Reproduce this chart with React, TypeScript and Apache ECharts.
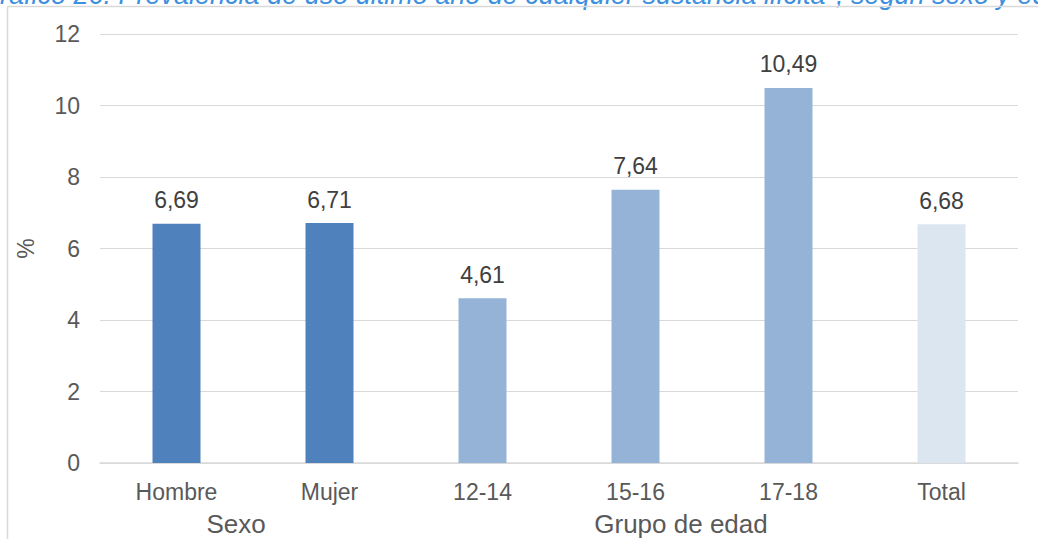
import React, { useEffect, useRef } from "react";
import * as echarts from "echarts";

const categories = ["Hombre", "Mujer", "12-14", "15-16", "17-18", "Total"];
const values = [6.69, 6.71, 4.61, 7.64, 10.49, 6.68];
const barColors = ["#4f81bd", "#4f81bd", "#95b3d7", "#95b3d7", "#95b3d7", "#dce6f1"];
const groupLabels = ["Sexo", "Grupo de edad"];
const yTicks = { min: 0, max: 12, interval: 2 };
const titleText =
  "Gráfico 26. Prevalencia de uso último año de cualquier sustancia ilícita*, según sexo y edad";

export default function App() {
  const ref = useRef<HTMLDivElement>(null);
  useEffect(() => {
    document.body.style.margin = "0";
    const chart = echarts.init(ref.current!, undefined, { renderer: "svg" });
    const font = "'Liberation Sans', Arial, sans-serif";
    chart.setOption({
      animation: false,
      backgroundColor: "#ffffff",
      grid: { left: 100, right: 20, top: 34, bottom: 76, containLabel: false },
      xAxis: {
        type: "category",
        data: categories,
        axisLine: { show: true, lineStyle: { color: "#d9d9d9", width: 1.5 } },
        axisTick: { show: false },
        axisLabel: { color: "#595959", fontSize: 23, fontFamily: font, margin: 17 },
      },
      yAxis: {
        type: "value",
        min: yTicks.min,
        max: yTicks.max,
        interval: yTicks.interval,
        name: "%",
        nameLocation: "middle",
        nameGap: 63,
        nameRotate: 90,
        nameTextStyle: { color: "#595959", fontSize: 23, fontFamily: font },
        axisLine: { show: false },
        axisTick: { show: false },
        axisLabel: { color: "#595959", fontSize: 23, fontFamily: font, margin: 20 },
        splitLine: { lineStyle: { color: "#d9d9d9", width: 1 } },
      },
      series: [
        {
          type: "bar",
          barWidth: 48,
          data: values.map((v, i) => ({ value: v, itemStyle: { color: barColors[i] } })),
          label: {
            show: true,
            position: "top",
            distance: 12,
            color: "#404040",
            fontSize: 23,
            fontFamily: font,
            formatter: (p: any) => Number(p.value).toFixed(2).replace(".", ","),
          },
        },
      ],
      graphic: [
        {
          type: "text",
          x: -21,
          y: -5,
          style: {
            text: titleText,
            fill: "#3d8fe0",
            font: `italic 27px ${font}`,
            verticalAlign: "middle",
            align: "left",
          },
        },
        {
          type: "line",
          shape: { x1: 7.5, y1: 6.5, x2: 1038, y2: 6.5 },
          style: { stroke: "#d9d9d9", lineWidth: 1.5 },
        },
        {
          type: "line",
          shape: { x1: 7.5, y1: 6.5, x2: 7.5, y2: 539 },
          style: { stroke: "#d9d9d9", lineWidth: 1.5 },
        },
        {
          type: "text",
          x: 236,
          y: 524,
          style: {
            text: groupLabels[0],
            fill: "#595959",
            font: `26px ${font}`,
            align: "center",
            verticalAlign: "middle",
          },
        },
        {
          type: "text",
          x: 681,
          y: 524,
          style: {
            text: groupLabels[1],
            fill: "#595959",
            font: `26px ${font}`,
            align: "center",
            verticalAlign: "middle",
          },
        },
      ],
    });
    return () => chart.dispose();
  }, []);
  return (
    <div
      ref={ref}
      style={{ position: "absolute", left: 0, top: 0, width: 1038, height: 539 }}
    />
  );
}
